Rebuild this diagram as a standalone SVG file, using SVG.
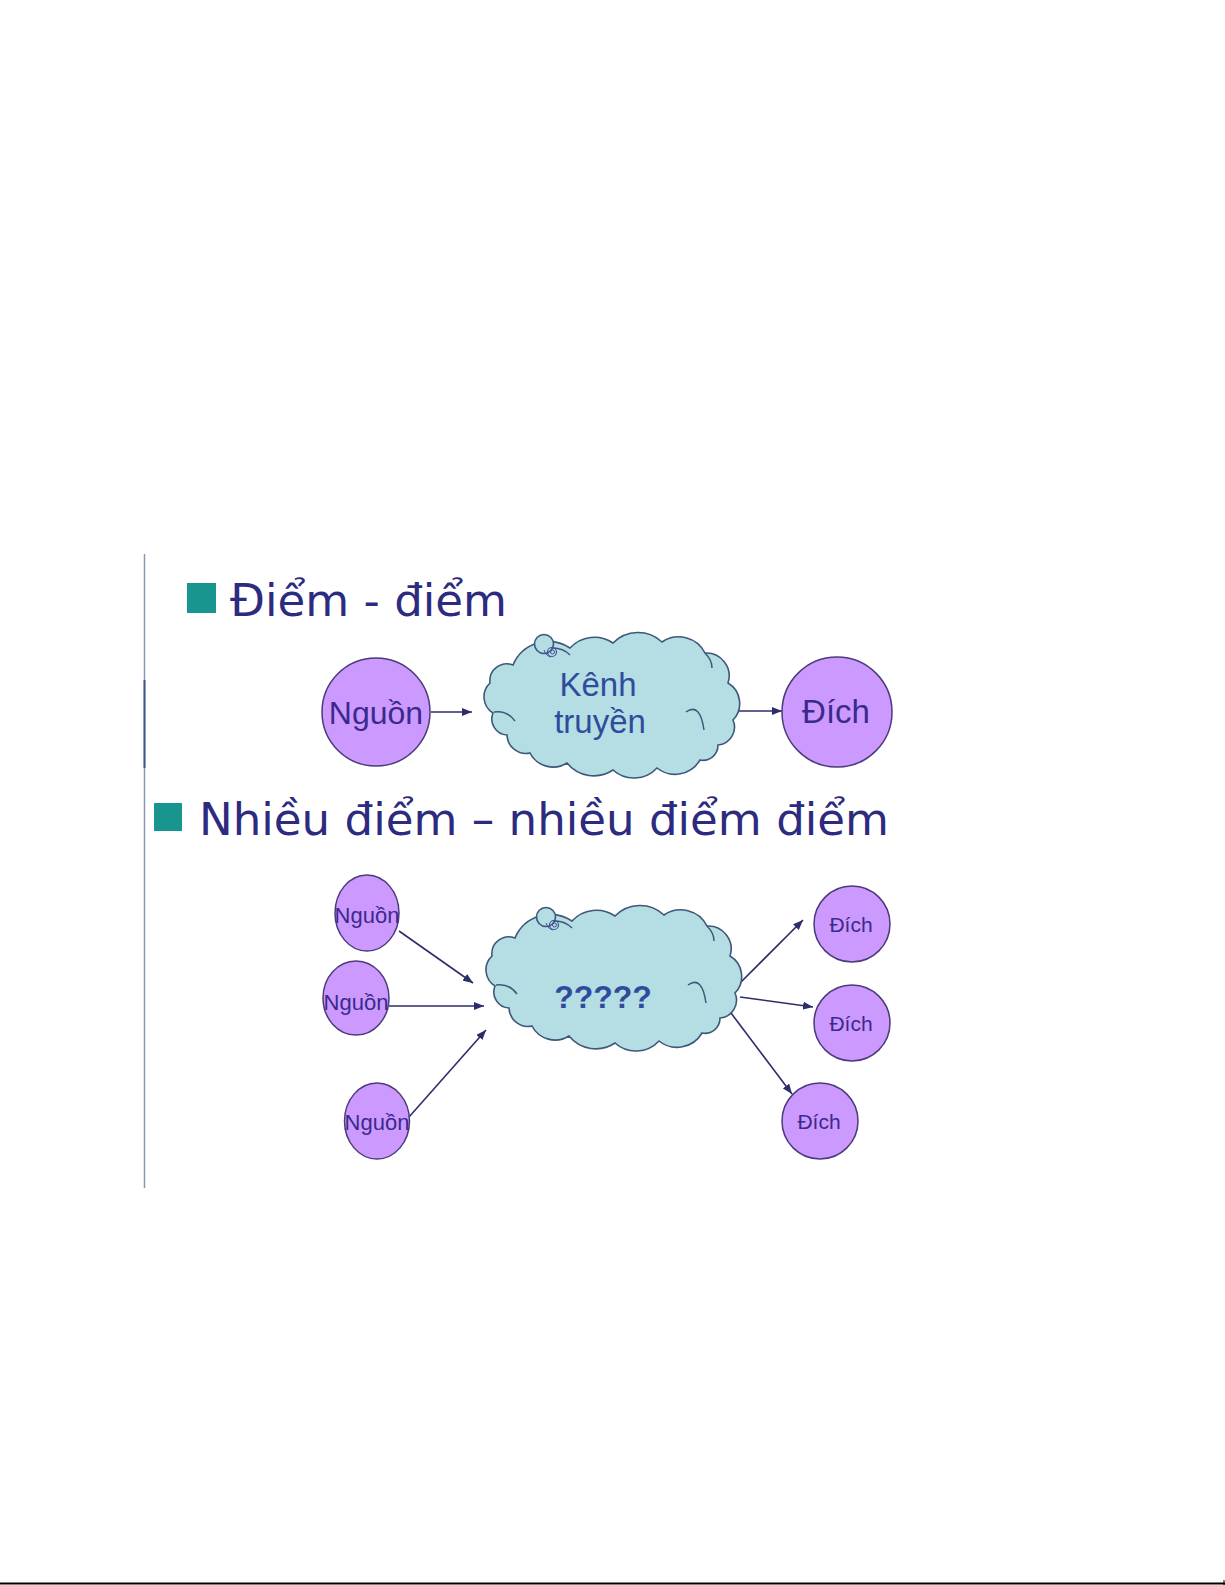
<svg xmlns="http://www.w3.org/2000/svg" xmlns:xlink="http://www.w3.org/1999/xlink" width="1225" height="1585" viewBox="0 0 1225 1585">
<style>
.title{font-family:"DejaVu Sans",Verdana,sans-serif;font-size:45px;fill:#2d2b7f}
.bullet{fill:#18958f}
.node{fill:#cc99ff;stroke:#4b3b7b;stroke-width:1.5}
.cloud{fill:#b5dde4;stroke:#3d5878;stroke-width:1.6}
.crease{fill:none;stroke:#3d5878;stroke-width:1.5}
.lbl{font-family:"Liberation Sans",Arial,sans-serif;fill:#3b2a8c;text-anchor:middle}
.clbl{font-family:"Liberation Sans",Arial,sans-serif;fill:#2f4c9c;text-anchor:middle}
.conn{stroke:#2d2d6b;stroke-width:1.6;fill:none;marker-end:url(#ah)}
</style>
<defs>
<marker id="ah" markerUnits="userSpaceOnUse" markerWidth="10" markerHeight="8" refX="10" refY="4" orient="auto">
<path d="M0,0 L10,4 L0,8 Z" fill="#2d2d6b"/>
</marker>
<g id="cloudshape">
<path class="cloud" d="M 513 665 A 38.6 38.6 0 0 1 570 648 A 33 33 0 0 1 613 643 A 35 35 0 0 1 662 642 A 29.6 29.6 0 0 1 705 653 A 22.9 22.9 0 0 1 728 683 A 23.8 23.8 0 0 1 733 720 A 18 18 0 0 1 718 745 A 15 15 0 0 1 700 760 A 28.9 28.9 0 0 1 657 768 A 31.4 31.4 0 0 1 613 770 A 34.5 34.5 0 0 1 567 763 A 26 26 0 0 1 530 753 A 19 19 0 0 1 507 735 A 16 16 0 0 1 493 713 A 19 19 0 0 1 490 683 A 17 17 0 0 1 513 665 Z"/>
<path class="crease" d="M 494 712 Q 507 710 515 721"/>
<path class="crease" d="M 686 712 Q 700 702 704 730"/>
<path class="crease" d="M 705 653 Q 712 660 712 668"/>
<path class="crease" d="M 553 648 Q 563 648 570 655"/>
<circle class="cloud" cx="544" cy="644" r="9.5"/>
<circle cx="552" cy="652" r="4.5" fill="none" stroke="#3d4f9a" stroke-width="1.2"/>
<circle cx="552.5" cy="652" r="2" fill="none" stroke="#3d4f9a" stroke-width="1"/>
<path d="M 544 650 Q 546 656 551 657" fill="none" stroke="#3d4f9a" stroke-width="1"/>
</g>
</defs>
<rect width="1225" height="1585" fill="#ffffff"/>

<g id="frame">
<line x1="144.5" y1="554" x2="144.5" y2="1188" stroke="#8797b5" stroke-width="1.5"/>
<line x1="144.5" y1="680" x2="144.5" y2="768" stroke="#3b5a8c" stroke-width="2"/>
<line x1="0" y1="1583.5" x2="1225" y2="1583.5" stroke="#000000" stroke-width="2"/>
<line x1="1224" y1="1580" x2="1224" y2="1585" stroke="#000000" stroke-width="1"/>
</g>

<g id="heading1">
<rect class="bullet" x="187" y="583" width="29" height="30"/>
<text class="title" x="230" y="616" textLength="277" lengthAdjust="spacingAndGlyphs">Điểm - điểm</text>
</g>

<g id="heading2">
<rect class="bullet" x="154" y="803" width="28" height="28"/>
<text class="title" x="199" y="835" textLength="690" lengthAdjust="spacingAndGlyphs">Nhiều điểm – nhiều điểm điểm</text>
</g>

<g id="connectors">
<line class="conn" x1="431" y1="712" x2="472" y2="712"/>
<line class="conn" x1="737" y1="711" x2="782" y2="711"/>
<line class="conn" x1="399" y1="931" x2="473" y2="983"/>
<line class="conn" x1="389" y1="1006" x2="484" y2="1006"/>
<line class="conn" x1="409" y1="1117" x2="486" y2="1030"/>
<line class="conn" x1="738" y1="985" x2="803" y2="920"/>
<line class="conn" x1="740" y1="997" x2="813" y2="1007"/>
<line class="conn" x1="728" y1="1009" x2="792" y2="1094"/>
</g>

<g id="nguon1">
<circle class="node" cx="376" cy="712" r="54"/>
<text class="lbl" x="376" y="724" font-size="32">Nguồn</text>
</g>
<g id="kenh-truyen">
<use xlink:href="#cloudshape" href="#cloudshape"/>
<text class="clbl" x="598" y="696" font-size="33">Kênh</text>
<text class="clbl" x="600" y="733" font-size="33">truyền</text>
</g>
<g id="dich1">
<circle class="node" cx="837" cy="712" r="55"/>
<text class="lbl" x="836" y="723" font-size="33">Đích</text>
</g>

<g id="nguon-a">
<ellipse class="node" cx="367" cy="913" rx="32" ry="38"/>
<text class="lbl" x="367" y="923" font-size="22">Nguồn</text>
</g>
<g id="nguon-b">
<ellipse class="node" cx="356" cy="998" rx="33" ry="37"/>
<text class="lbl" x="356" y="1010" font-size="22">Nguồn</text>
</g>
<g id="nguon-c">
<ellipse class="node" cx="377" cy="1121" rx="32.5" ry="38"/>
<text class="lbl" x="377" y="1130" font-size="22">Nguồn</text>
</g>
<g id="cloud2">
<use xlink:href="#cloudshape" href="#cloudshape" transform="translate(2,273)"/>
<text class="clbl" x="603" y="1008" font-size="32" font-weight="bold" fill="#2c3c8c">?????</text>
</g>
<g id="dich-a">
<circle class="node" cx="852" cy="924" r="38"/>
<text class="lbl" x="851" y="932" font-size="21">Đích</text>
</g>
<g id="dich-b">
<circle class="node" cx="852" cy="1023" r="38"/>
<text class="lbl" x="851" y="1031" font-size="21">Đích</text>
</g>
<g id="dich-c">
<circle class="node" cx="820" cy="1121" r="38"/>
<text class="lbl" x="819" y="1129" font-size="21">Đích</text>
</g>
</svg>
